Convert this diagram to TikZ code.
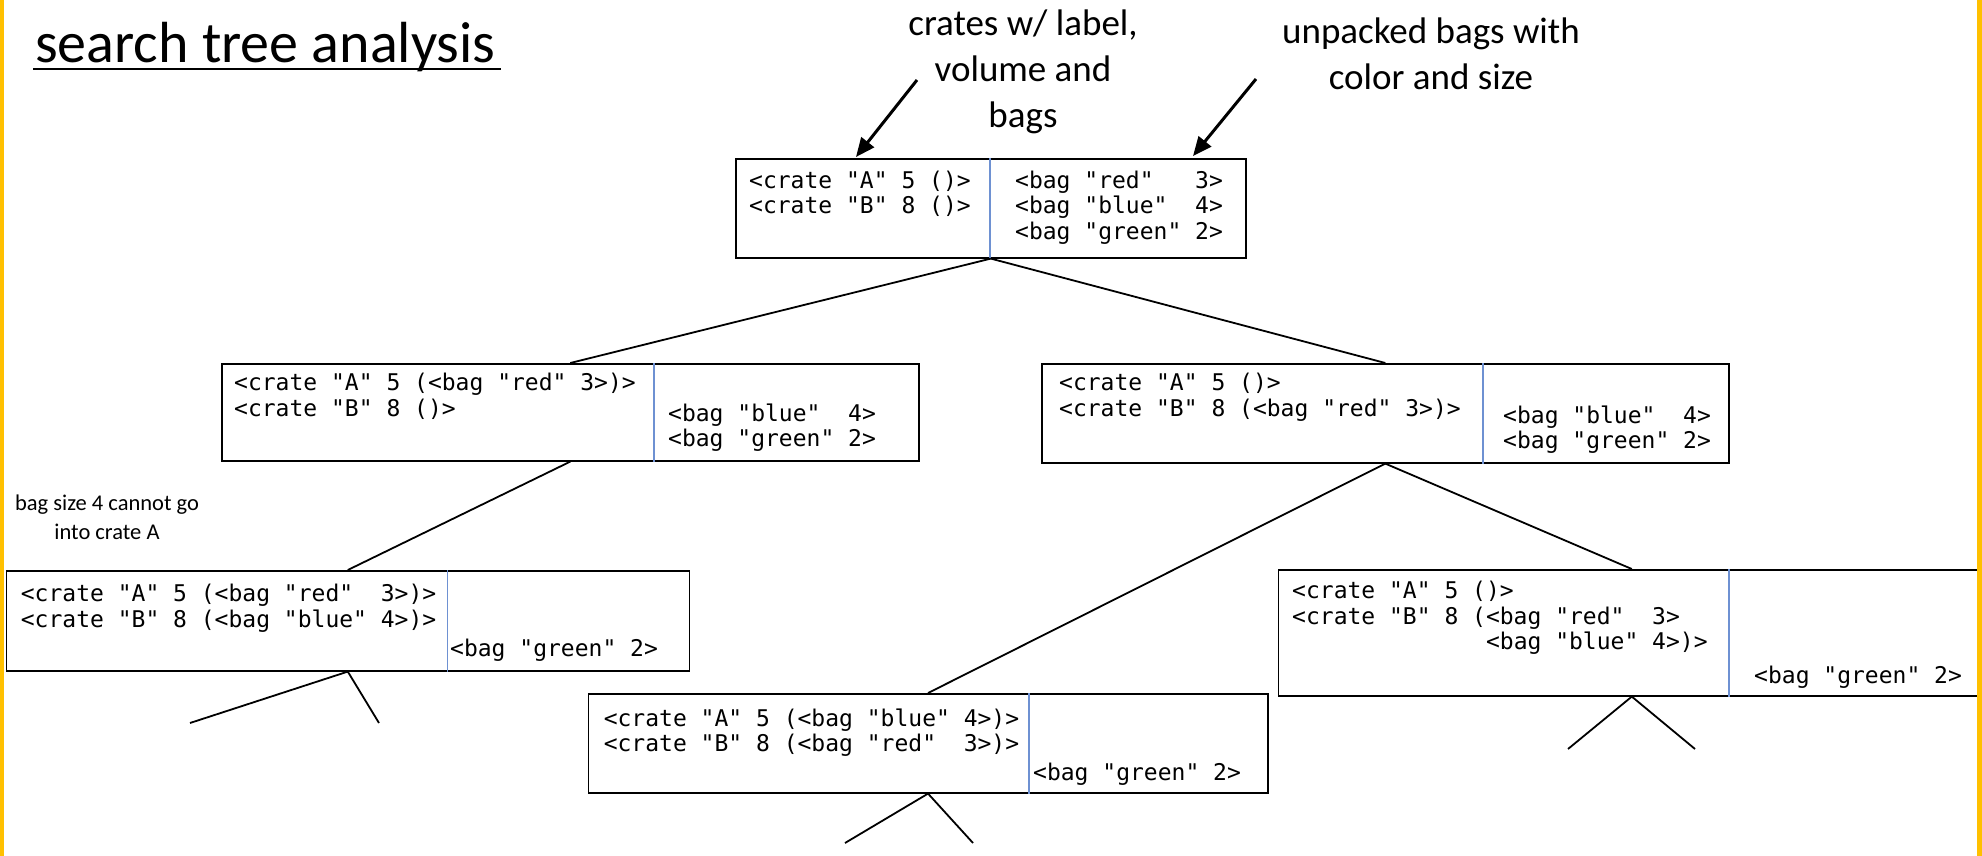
\documentclass[tikz,border=0pt]{standalone}
\usepackage{fontspec}
\setmainfont{Carlito}
\newfontfamily\codefont{DejaVu Sans Mono}
\usetikzlibrary{arrows.meta}
\definecolor{gold}{HTML}{FFC000}
\definecolor{divblue}{RGB}{110,145,210}
\newcommand\lnup{\rule{0pt}{18pt}}
\newcommand\nup{\rule{0pt}{28pt}}
\begin{document}
\begin{tikzpicture}[x=1pt,y=-1pt,
  box/.style={draw=black, line width=1.6pt, inner sep=0pt, anchor=north west},
  divider/.style={draw=divblue, line width=1.2pt},
  code/.style={font=\codefont\fontsize{23}{25.5}\selectfont, align=left, inner sep=0pt, anchor=north west},
  note/.style={font=\fontsize{37}{46}\selectfont, align=center, inner sep=0pt, anchor=north},
  smallnote/.style={font=\fontsize{22.5}{29}\selectfont, align=center, inner sep=0pt, anchor=north},
  edge/.style={draw=black, line width=1.8pt},
  arr/.style={draw=black, line width=3pt, -{Triangle[length=19pt,width=16pt]}}
]
\useasboundingbox (0,0) rectangle (1982,856);
\fill[white] (0,0) rectangle (1982,856);

% title
\node[font=\fontsize{58}{70}\selectfont, anchor=base west, inner sep=0pt] (title) at (35,63) {search tree analysis};
\draw[line width=2.2pt] ([shift={(-2,6)}]title.base west) -- ([shift={(5,6)}]title.base east);

% annotations
\node[note] (n1) at (1023,7) {\nup crates w/ label,\\volume and\\bags};
\node[note] (n2) at (1431,15) {\nup unpacked bags with\\color and size};
\node[smallnote] (n3) at (107,492) {\rule{0pt}{18pt}bag size 4 cannot go\\into crate A};

% root
\node[box, minimum width=510pt, minimum height=99pt] (root) at (735,158) {};
\coordinate (rootd) at (990,158);
\draw[divider] (rootd) -- (rootd |- root.south);
\node[code] (rootl) at (749,170) {\lnup<crate "A" 5 ()>\\<crate "B" 8 ()>};
\node[code] (rootr) at (1015,170) {\lnup<bag "red"\ \ \ 3>\\<bag "blue"\ \ 4>\\<bag "green" 2>};

% level 1 left
\node[box, minimum width=697pt, minimum height=97pt] (aL) at (221,363) {};
\coordinate (aLd) at (654,363);
\draw[divider] (aLd) -- (aLd |- aL.south);
\node[code] (aLl) at (234,372.4) {\lnup<crate "A" 5 (<bag "red" 3>)>\\<crate "B" 8 ()>};
\node[code] (aLr) at (668,403) {\lnup<bag "blue"\ \ 4>\\<bag "green" 2>};

% level 1 right
\node[box, minimum width=687pt, minimum height=99pt] (aR) at (1041,363) {};
\coordinate (aRd) at (1483,363);
\draw[divider] (aRd) -- (aRd |- aR.south);
\node[code] (aRl) at (1059,372.4) {\lnup<crate "A" 5 ()>\\<crate "B" 8 (<bag "red" 3>)>};
\node[code] (aRr) at (1503,405) {\lnup<bag "blue"\ \ 4>\\<bag "green" 2>};

% level 2 left
\node[box, minimum width=683pt, minimum height=100pt] (bL) at (5.5,570) {};
\coordinate (bLd) at (447.6,570);
\draw[divider] (bLd) -- (bLd |- bL.south);
\node[code] (bLl) at (20.7,583.4) {\lnup<crate "A" 5 (<bag "red"\ \ 3>)>\\<crate "B" 8 (<bag "blue" 4>)>};
\node[code] (bLr) at (450,638.5) {\lnup<bag "green" 2>};

% level 2 middle
\node[box, minimum width=679.5pt, minimum height=99pt] (bM) at (587.5,693) {};
\coordinate (bMd) at (1029,693);
\draw[divider] (bMd) -- (bMd |- bM.south);
\node[code] (bMl) at (603.6,708) {\lnup<crate "A" 5 (<bag "blue" 4>)>\\<crate "B" 8 (<bag "red"\ \ 3>)>};
\node[code] (bMr) at (1033,762) {\lnup<bag "green" 2>};

% level 2 right
\node[box, minimum width=707pt, minimum height=126pt] (bR) at (1277.5,569) {};
\coordinate (bRd) at (1729,569);
\draw[divider] (bRd) -- (bRd |- bR.south);
\node[code] (bRl) at (1292,580.4) {\lnup<crate "A" 5 ()>\\<crate "B" 8 (<bag "red"\ \ 3>\\\phantom{<crate "B" 8 (}<bag "blue" 4>)>};
\node[code] (bRr) at (1754,665.4) {\lnup<bag "green" 2>};

% tree edges
\draw[edge] (root.south) -- (aL.north);
\draw[edge] (root.south) -- (aR.north);
\draw[edge] (aL.south) -- (bL.north);
\draw[edge] (aR.south) -- (bM.north);
\draw[edge] (aR.south) -- (bR.north);

% stubs
\coordinate (sL1) at (190,723);
\coordinate (sL2) at (379,723);
\coordinate (sM1) at (845,843);
\coordinate (sM2) at (973,843);
\coordinate (sR1) at (1568,749);
\coordinate (sR2) at (1695,749);
\draw[edge] (sL1) -- (bL.south) -- (sL2);
\draw[edge] (sM1) -- (bM.south) -- (sM2);
\draw[edge] (sR1) -- (bR.south) -- (sR2);

% annotation arrows
\coordinate (a1s) at (917,80);
\coordinate (a1e) at (856,157);
\coordinate (a2s) at (1256,79);
\coordinate (a2e) at (1193,156);
\draw[arr] (a1s) -- (a1e);
\draw[arr] (a2s) -- (a2e);

% side bars
\fill[gold] (0,0) rectangle (3.5,856);
\fill[gold] (1977,0) rectangle (1982,856);
\end{tikzpicture}
\end{document}
